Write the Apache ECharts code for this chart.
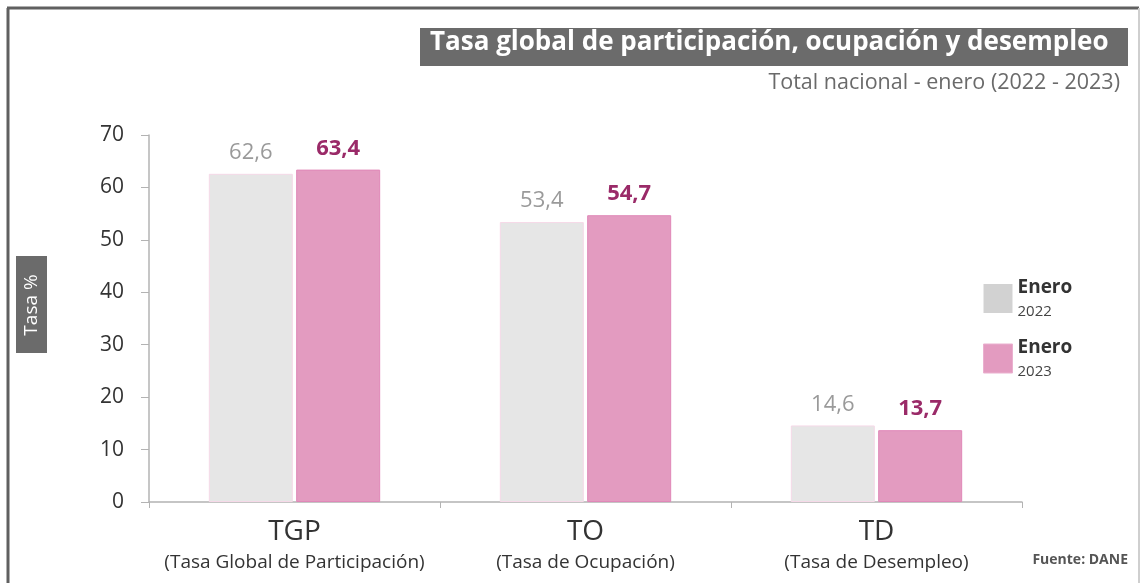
<!DOCTYPE html>
<html><head><meta charset="utf-8">
<script src="https://cdn.jsdelivr.net/npm/echarts@6/dist/echarts.min.js"></script>
<style>html,body{margin:0;padding:0;background:#fff}#c{width:1142px;height:583px}</style>
</head><body><div id="c"></div>
<script>
const categories = ['TGP', 'TO', 'TD'];
const categoryNames = ['(Tasa Global de Participación)', '(Tasa de Ocupación)', '(Tasa de Desempleo)'];
const values2022 = [62.6, 53.4, 14.6];
const values2023 = [63.4, 54.7, 13.7];
const seriesNames = ['Enero 2022', 'Enero 2023'];
const yTicks = [0, 10, 20, 30, 40, 50, 60, 70];

const FONT = '"Open Sans", "DejaVu Sans", sans-serif';
const fmt = v => v.toFixed(1).replace('.', ',');
const chart = echarts.init(document.getElementById('c'), null, {renderer: 'canvas'});
chart.setOption({
  animation: false,
  textStyle: {fontFamily: FONT},
  grid: {left: 149, right: 120, top: 135, bottom: 81, containLabel: false},
  graphic: [
    {type: 'line', shape: {x1: 8, y1: 8, x2: 8, y2: 583}, style: {stroke: '#606060', lineWidth: 3}},
    {type: 'line', shape: {x1: 7, y1: 8, x2: 1139, y2: 8}, style: {stroke: '#606060', lineWidth: 3}},
    {type: 'line', shape: {x1: 1139, y1: 8, x2: 1139, y2: 583}, style: {stroke: '#cfcfcf', lineWidth: 2}},
    {type: 'rect', shape: {x: 420, y: 28, width: 708, height: 38}, style: {fill: '#6b6b6b'}},
    {type: 'text', left: 430, top: 30, style: {text: 'Tasa global de participación, ocupación y desempleo', fill: '#ffffff', font: 'bold 26px ' + FONT}},
    {type: 'text', right: 22, top: 72, style: {text: 'Total nacional - enero (2022 - 2023)', fill: '#6a6a6a', font: '21.5px ' + FONT}},
    {type: 'rect', shape: {x: 16, y: 256, width: 31, height: 97}, style: {fill: '#6b6b6b'}},
    {type: 'text', x: 32, y: 305, rotation: Math.PI / 2, style: {text: 'Tasa %', fill: '#ffffff', font: '19px ' + FONT, align: 'center', verticalAlign: 'middle'}},
    {type: 'text', right: 14, top: 553, style: {text: 'Fuente: DANE', fill: '#555555', font: 'bold 14px ' + FONT}}
  ],
  legend: {
    orient: 'vertical', left: 978, top: 273, itemWidth: 29, itemHeight: 29, itemGap: 19,
    icon: 'rect',
    formatter: n => { const p = n.split(' '); return '{a|' + p[0] + '}\n{b|' + p[1] + '}'; },
    textStyle: {rich: {a: {fontSize: 19, fontWeight: 'bold', color: '#333', fontFamily: FONT, lineHeight: 26}, b: {fontSize: 15, color: '#444', fontFamily: FONT, lineHeight: 22}}},
    data: [
      {name: seriesNames[0], itemStyle: {color: '#d2d2d2', borderWidth: 0}},
      {name: seriesNames[1], itemStyle: {color: '#e39bc0', borderColor: '#eab0cf', borderWidth: 1}}
    ]
  },
  xAxis: {
    type: 'category', data: categories,
    axisLine: {lineStyle: {color: '#b3b3b3', width: 1.5}},
    axisTick: {show: true, length: 6, lineStyle: {color: '#b3b3b3'}},
    axisLabel: {
      margin: 12, interval: 0,
      formatter: (v, i) => '{a|' + v + '}\n{b|' + categoryNames[i] + '}',
      rich: {a: {fontSize: 28, color: '#333', fontFamily: FONT, lineHeight: 36}, b: {fontSize: 19, color: '#333', fontFamily: FONT, lineHeight: 26}}
    }
  },
  yAxis: {
    type: 'value', min: 0, max: 70, interval: 10,
    axisLine: {show: true, lineStyle: {color: '#b3b3b3', width: 1.5}},
    axisTick: {show: true, length: 8, lineStyle: {color: '#b3b3b3'}},
    splitLine: {show: false},
    axisLabel: {margin: 25, fontSize: 21, color: '#333', fontFamily: FONT,
      formatter: v => yTicks.includes(v) ? String(v) : ''}
  },
  series: [
    {name: seriesNames[0], type: 'bar', data: values2022, barWidth: 84, barGap: '4%',
      itemStyle: {color: '#e6e6e6', borderColor: '#f6d9e8', borderWidth: 1},
      label: {show: true, position: 'top', distance: 10, formatter: p => fmt(p.value), color: '#9a9a9a', fontSize: 22, fontWeight: 'normal', fontFamily: FONT}},
    {name: seriesNames[1], type: 'bar', data: values2023, barWidth: 84,
      itemStyle: {color: '#e39bc0', borderColor: '#e088b8', borderWidth: 1},
      label: {show: true, position: 'top', distance: 10, formatter: p => fmt(p.value), color: '#9a2a68', fontSize: 22, fontWeight: 'bold', fontFamily: FONT}}
  ]
});
</script></body></html>
